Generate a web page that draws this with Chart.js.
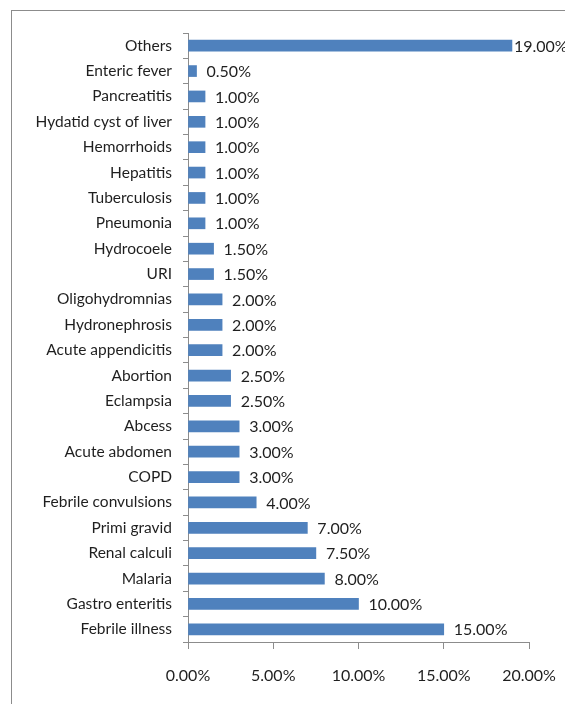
<!DOCTYPE html>
<html>
<head>
<meta charset="utf-8">
<script src="https://cdn.jsdelivr.net/npm/chart.js@4/dist/chart.umd.min.js"></script>
<style>
  html, body { margin: 0; padding: 0; background: #fff; overflow: hidden; }
  #wrap { position: relative; width: 565px; height: 704px; }
  #frame { position: absolute; left: 11px; top: 10px; width: 600px; height: 800px;
           border: 1.5px solid #8c8c8c; box-sizing: border-box; }
  canvas { position: absolute; left: 0; top: 0; }
</style>
</head>
<body>
<div id="wrap">
  <div id="frame"></div>
  <canvas id="chart" width="565" height="704"></canvas>
</div>
<script>
// categories top to bottom, values in percent
const categories = [
  'Others', 'Enteric fever', 'Pancreatitis', 'Hydatid cyst of liver', 'Hemorrhoids',
  'Hepatitis', 'Tuberculosis', 'Pneumonia', 'Hydrocoele', 'URI',
  'Oligohydromnias', 'Hydronephrosis', 'Acute appendicitis', 'Abortion', 'Eclampsia',
  'Abcess', 'Acute abdomen', 'COPD', 'Febrile convulsions', 'Primi gravid',
  'Renal calculi', 'Malaria', 'Gastro enteritis', 'Febrile illness'
];
const percentages = [
  19, 0.5, 1, 1, 1,
  1, 1, 1, 1.5, 1.5,
  2, 2, 2, 2.5, 2.5,
  3, 3, 3, 4, 7,
  7.5, 8, 10, 15
];
const xTicks = [0, 5, 10, 15, 20];

const FONT = 'Lato, "Open Sans", sans-serif';
const TEXT = '#1f1f1f';
const AXIS = '#8c8c8c';

// value labels at the end of each bar
const barLabels = {
  id: 'barLabels',
  afterDatasetsDraw(chart) {
    const ctx = chart.ctx;
    const meta = chart.getDatasetMeta(0);
    ctx.save();
    ctx.font = '16px ' + FONT;
    ctx.fillStyle = TEXT;
    ctx.textBaseline = 'middle';
    ctx.textAlign = 'left';
    meta.data.forEach((bar, i) => {
      const txt = percentages[i].toFixed(2) + '%';
      const w = ctx.measureText(txt).width;
      let x = bar.x + 10;
      if (x + w > chart.width) x = Math.max(bar.x + 2, chart.width - w);
      ctx.fillText(txt, x, bar.y + 1);
    });
    ctx.restore();
  }
};

new Chart(document.getElementById('chart'), {
  type: 'bar',
  data: {
    labels: categories,
    datasets: [{
      data: percentages,
      backgroundColor: '#4f81bd',
      borderWidth: 0,
      barThickness: 11
    }]
  },
  options: {
    indexAxis: 'y',
    responsive: false,
    animation: false,
    events: [],
    layout: { padding: { top: 33, right: 36, bottom: 0, left: 0 } },
    plugins: { legend: { display: false }, tooltip: { enabled: false } },
    scales: {
      x: {
        min: 0, max: 20,
        afterFit: s => { s.height = 62; s.paddingRight = 0; },
        afterBuildTicks: s => { s.ticks = xTicks.map(v => ({ value: v })); },
        grid: { drawOnChartArea: false, color: AXIS, tickLength: 7 },
        border: { color: AXIS, width: 1 },
        ticks: {
          padding: 17,
          color: TEXT,
          font: { family: FONT, size: 16 },
          maxRotation: 0,
          callback: v => v.toFixed(2) + '%'
        }
      },
      y: {
        afterFit: s => { s.width = 188; },
        grid: { drawOnChartArea: false, color: AXIS, tickLength: 5, offset: true },
        border: { color: AXIS, width: 1 },
        ticks: {
          padding: 11,
          color: TEXT,
          autoSkip: false,
          font: { family: FONT, size: 15.5 }
        }
      }
    }
  },
  plugins: [barLabels]
});
</script>
</body>
</html>
